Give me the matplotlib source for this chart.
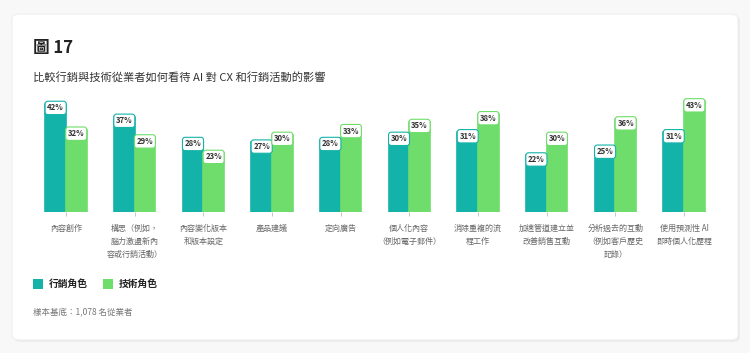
import matplotlib.pyplot as plt
from matplotlib.patches import FancyBboxPatch

plt.rcParams['font.family'] = ['Noto Sans CJK TC', 'DejaVu Sans']

categories = [
    '內容創作',
    '構思（例如，\n腦力激盪新內\n容或行銷活動）',
    '內容變化版本\n和版本設定',
    '產品建議',
    '定向廣告',
    '個人化內容\n（例如電子郵件）',
    '消除重複的流\n程工作',
    '加速管道建立並\n改善銷售互動',
    '分析過去的互動\n（例如客戶歷史\n記錄）',
    '使用預測性 AI\n即時個人化歷程',
]
marketing = [42, 37, 28, 27, 28, 30, 31, 22, 25, 31]
technical = [32, 29, 23, 30, 33, 35, 38, 30, 36, 43]
series_names = ['行銷角色', '技術角色']

teal = '#14b3aa'
green = '#6fdd6b'

fig = plt.figure(figsize=(7.5, 3.53), dpi=100)
fig.patch.set_facecolor('#f8f8f8')

# white card behind everything
shadow = FancyBboxPatch((14 / 750, 11 / 353), 726 / 750, 326 / 353,
                        boxstyle='round,pad=0,rounding_size=0.012',
                        transform=fig.transFigure, fc='#ececec', ec='none', zorder=-3)
card = FancyBboxPatch((12 / 750, 13 / 353), 726 / 750, 326 / 353,
                      boxstyle='round,pad=0,rounding_size=0.012',
                      transform=fig.transFigure, fc='white', ec='#eeeeee', lw=0.8, zorder=-2)
fig.patches.extend([shadow, card])

fig.text(33 / 750, 1 - 48 / 353, '圖 17', fontsize=12, fontweight='bold', color='#222222', va='center')
fig.text(33 / 750, 1 - 77 / 353, '比較行銷與技術從業者如何看待 AI 對 CX 和行銷活動的影響',
         fontsize=8.1, color='#333333', va='center')

ax = fig.add_axes([31.6 / 750, 141 / 353, 686.8 / 750, 116 / 353])
ax.set_facecolor('none')
ax.set_zorder(1)

x = list(range(len(categories)))
w = 0.3
b1 = ax.bar([i - w / 2 for i in x], marketing, w, color=teal, edgecolor=teal, lw=1.2, joinstyle='round')
b2 = ax.bar([i + w / 2 for i in x], technical, w, color=green, edgecolor=green, lw=1.2, joinstyle='round')

for bars, vals, col in [(b1, marketing, teal), (b2, technical, green)]:
    for bar, v in zip(bars, vals):
        ax.annotate(f'{v}%', (bar.get_x() + bar.get_width() / 2, v), xytext=(0, -3),
                    textcoords='offset points', ha='center', va='center',
                    fontsize=5.6, fontweight='bold', color='#333333',
                    bbox=dict(boxstyle='round,pad=0.28,rounding_size=0.35', fc='white', ec=col, lw=0.8))

ax.set_xlim(-0.5, len(categories) - 0.5)
ax.set_ylim(0, 45)
ax.set_xticks(x)
ax.set_xticklabels(categories, fontsize=5.8, color='#666666', linespacing=1.55)
ax.tick_params(axis='x', length=3, width=0.6, color='#bbbbbb', pad=5.5)
ax.set_yticks([])
for s in ax.spines.values():
    s.set_visible(False)

# legend
for i, (name, col) in enumerate(zip(series_names, [teal, green])):
    x0 = [33, 103][i]
    fig.patches.append(plt.Rectangle((x0 / 750, 1 - 289 / 353), 10 / 750, 10 / 353,
                                     transform=fig.transFigure, fc=col, ec='none'))
    fig.text((x0 + 16) / 750, 1 - 284 / 353, name, fontsize=7, fontweight='bold',
             color='#222222', va='center')

fig.text(33 / 750, 1 - 312 / 353, '樣本基底：1,078 名從業者', fontsize=6.1, color='#777777', va='center')

fig.savefig('out.png', dpi=100, facecolor=fig.get_facecolor())
